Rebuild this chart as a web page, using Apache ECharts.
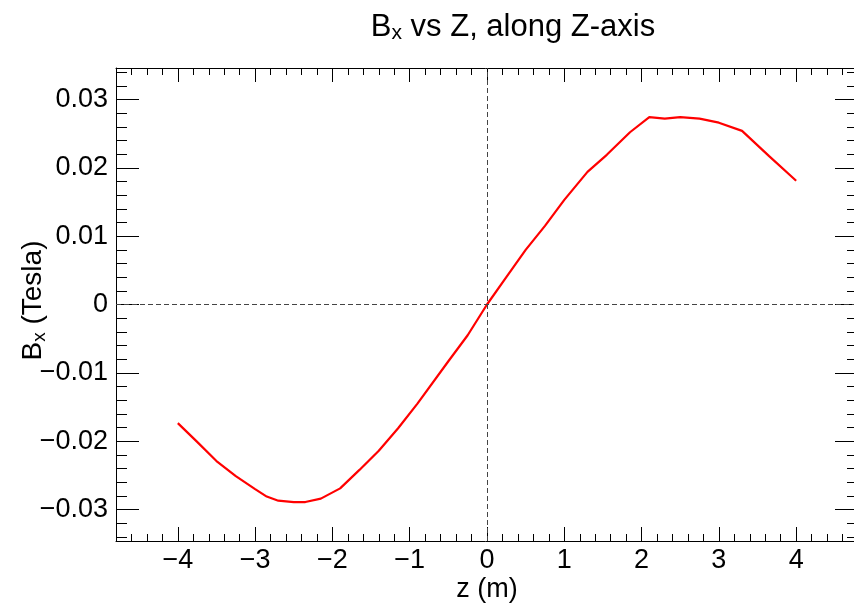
<!DOCTYPE html>
<html>
<head>
<meta charset="utf-8">
<script src="https://cdn.jsdelivr.net/npm/echarts@6/dist/echarts.min.js"></script>
<style>
html,body{margin:0;padding:0;background:#fff;}
#chart{width:854px;height:606px;}
</style>
</head>
<body>
<div id="chart"></div>
<script>
// ---- data ----
const zValues  = [-4.0,-3.75,-3.5,-3.25,-3.0,-2.85,-2.7,-2.5,-2.35,-2.15,-1.9,-1.65,-1.4,-1.15,-0.9,-0.5,-0.25,0,0.25,0.5,0.75,1.0,1.3,1.55,1.85,2.1,2.3,2.5,2.75,3.0,3.3,3.65,4.0];
const bxValues = [-0.01735,-0.0201,-0.0229,-0.0251,-0.0270,-0.0281,-0.0287,-0.0289,-0.0289,-0.0284,-0.0269,-0.0242,-0.0214,-0.0181,-0.0145,-0.0083,-0.0045,0.0,0.0040,0.0080,0.0115,0.0153,0.0194,0.0219,0.0252,0.0274,0.0272,0.0274,0.0272,0.0266,0.0254,0.0217,0.0181];

// ---- axes ----
const xRange = [-4.8, 4.8];
const yRange = [-0.0346, 0.0346];
const xMajorTicks = [-4,-3,-2,-1,0,1,2,3,4];
const yMajorTicks = [-0.03,-0.02,-0.01,0,0.01,0.02,0.03];
const xMinorStep = 0.2;
const yMinorStep = 0.002;

function minorTicks(range, step, majors){
  const out = [];
  const n0 = Math.ceil(range[0]/step - 1e-9), n1 = Math.floor(range[1]/step + 1e-9);
  for (let i = n0; i <= n1; i++){
    const v = +(i*step).toFixed(6);
    if (v <= range[0] || v >= range[1]) continue;
    if (majors.some(m => Math.abs(m - v) < step/10)) continue;
    out.push(v);
  }
  return out;
}
const xMinorTicks = minorTicks(xRange, xMinorStep, xMajorTicks);
const yMinorTicks = minorTicks(yRange, yMinorStep, yMajorTicks);

const FONT = 'Liberation Sans, Arial, Helvetica, sans-serif';
const MINUS = '\u2212';
function fmtX(v){ return v < 0 ? MINUS + Math.abs(v) : String(v); }
function fmtY(v){ if (Math.abs(v) < 1e-9) return '0'; return (v < 0 ? MINUS : '') + Math.abs(v).toFixed(2); }

const lineBlack = {color:'#000', width:1};

function xAxisDef(pos, ticks, len, withLabels, withLine, withName){
  const a = {
    type:'value', position:pos, min:xRange[0], max:xRange[1],
    axisLine:{show:withLine, onZero:false, lineStyle:lineBlack},
    axisTick:{show:true, inside:true, length:len, customValues:ticks, lineStyle:lineBlack},
    axisLabel:{show:withLabels, customValues:ticks, formatter:fmtX, margin:6,
      color:'#000', fontFamily:FONT, fontSize:27},
    splitLine:{show:false}, minorTick:{show:false}, minorSplitLine:{show:false}
  };
  if (withName){
    a.name = 'z (m)';
    a.nameLocation = 'middle';
    a.nameGap = 35;
    a.nameMoveOverlap = false;
    a.nameTextStyle = {color:'#000', fontFamily:FONT, fontSize:27};
  }
  return a;
}
function yAxisDef(pos, ticks, len, withLabels, withLine, withName){
  const a = {
    type:'value', position:pos, min:yRange[0], max:yRange[1],
    axisLine:{show:withLine, onZero:false, lineStyle:lineBlack},
    axisTick:{show:true, inside:true, length:len, customValues:ticks, lineStyle:lineBlack},
    axisLabel:{show:withLabels, customValues:ticks, formatter:fmtY, margin:8,
      color:'#000', fontFamily:FONT, fontSize:27},
    splitLine:{show:false}, minorTick:{show:false}, minorSplitLine:{show:false}
  };
  if (withName){
    a.name = '{b|B}{s|x}{b| (Tesla)}';
    a.nameLocation = 'middle';
    a.nameRotate = 90;
    a.nameGap = 67;
    a.nameMoveOverlap = false;
    a.nameTextStyle = {color:'#000', fontFamily:FONT, fontSize:28, padding:[0,0,0,8],
      rich:{
        b:{fontFamily:FONT, fontSize:28, lineHeight:32, color:'#000'},
        s:{fontFamily:FONT, fontSize:19, lineHeight:19, verticalAlign:'bottom', color:'#000'}
      }};
  }
  return a;
}

const chart = echarts.init(document.getElementById('chart'), null, {renderer:'canvas'});
chart.setOption({
  animation:false,
  backgroundColor:'#fff',
  title:{
    text:'{b|B}{s|x}{b| vs Z, along Z-axis}',
    left:508, top:5, textAlign:'center',
    textStyle:{fontFamily:FONT, fontSize:31, fontWeight:'normal', color:'#000',
      rich:{
        b:{fontFamily:FONT, fontSize:31, lineHeight:34, color:'#000'},
        s:{fontFamily:FONT, fontSize:21, lineHeight:21, verticalAlign:'bottom', color:'#000'}
      }}
  },
  grid:{left:116, top:68, width:742, height:473, containLabel:false, outerBoundsMode:'none'},
  xAxis:[
    xAxisDef('bottom', xMajorTicks, 14, true, true, true),
    xAxisDef('bottom', xMinorTicks, 7, false, false, false),
    xAxisDef('top', xMajorTicks, 14, false, true, false),
    xAxisDef('top', xMinorTicks, 7, false, false, false)
  ],
  yAxis:[
    yAxisDef('left', yMajorTicks, 23, true, true, true),
    yAxisDef('left', yMinorTicks, 11, false, false, false),
    yAxisDef('right', yMajorTicks, 23, false, true, false),
    yAxisDef('right', yMinorTicks, 11, false, false, false)
  ],
  series:[{
    type:'line',
    xAxisIndex:0, yAxisIndex:0,
    data: zValues.map((z,i) => [z, bxValues[i]]),
    showSymbol:false, symbol:'none', smooth:false,
    lineStyle:{color:'#ff0000', width:2.2},
    markLine:{
      silent:true, symbol:['none','none'], label:{show:false},
      lineStyle:{color:'#444', width:1, type:[5,3]},
      data:[{xAxis:0},{yAxis:0}]
    },
    z:3
  }]
});
</script>
</body>
</html>
